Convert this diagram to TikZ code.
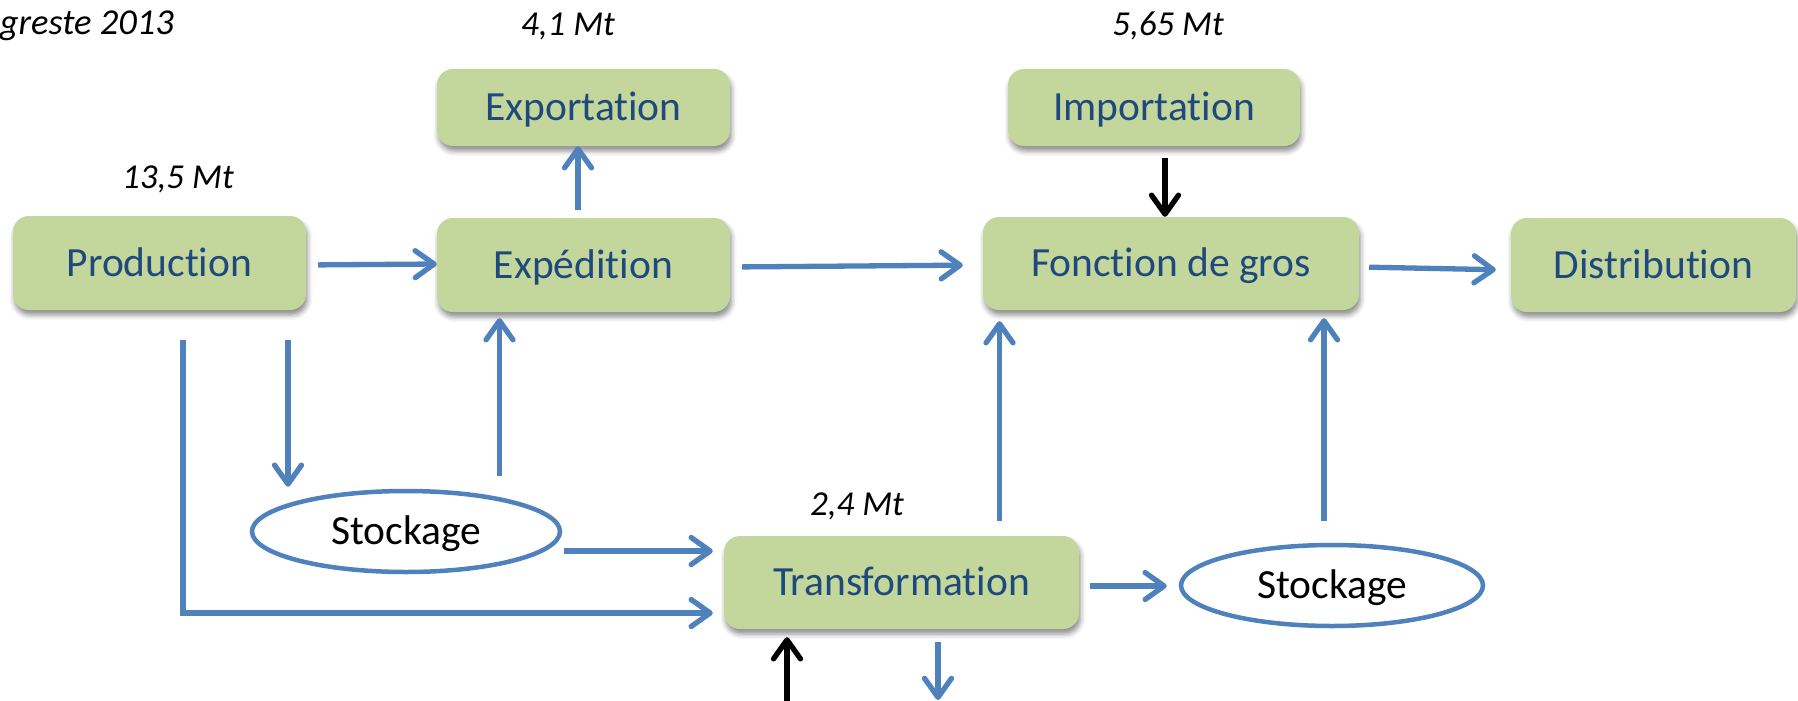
\documentclass[tikz,border=0pt]{standalone}
\usepackage{fontspec}
\setmainfont{Carlito}[Ligatures={NoCommon}]
\usetikzlibrary{arrows.meta,shapes.geometric,shadows.blur,calc}
\definecolor{boxgreen}{HTML}{C3D69B}
\definecolor{boxtext}{HTML}{1F497D}
\definecolor{arrblue}{HTML}{4F81BD}
\tikzset{
  gbox/.style={rectangle, rounded corners=16pt, fill=boxgreen, draw=none, inner sep=0pt,
    text=boxtext, font=\fontsize{41.5}{50}\selectfont, text height=26.5pt, text depth=0pt,
    blur shadow={shadow xshift=1.5pt, shadow yshift=-5pt, shadow blur radius=5pt, shadow opacity=45}},
  stockbox/.style={ellipse, draw=arrblue, line width=4.5pt, fill=white, inner sep=0pt,
    font=\fontsize{41.5}{50}\selectfont, text height=26.5pt, text depth=0pt},
  qty/.style={font=\fontsize{35}{42}\selectfont\itshape, inner sep=0pt, anchor=base},
  arr/.style={draw=arrblue, line width=5.3pt,
    -{Straight Barb[length=19pt, width=27pt, line cap=round, line join=round]}},
  blk/.style={draw=black, line width=5.3pt,
    -{Straight Barb[length=19pt, width=27pt, line cap=round, line join=round]}},
}
\begin{document}
\begin{tikzpicture}[x=1pt, y=-1pt]
\useasboundingbox (0,0) rectangle (1798,701);

% boxes
\node[gbox, minimum width=293pt, minimum height=94pt] (prod) at (159.5,263) {Production};
\node[gbox, minimum width=293pt, minimum height=77pt] (export) at (583.5,107.5) {Exportation};
\node[gbox, minimum width=293pt, minimum height=94pt] (exped) at (583.5,265) {Expédition};
\node[gbox, minimum width=292pt, minimum height=77pt] (import) at (1154,107.5) {Importation};
\node[gbox, minimum width=376pt, minimum height=93pt] (fonction) at (1171,263.5) {Fonction de gros};
\node[gbox, minimum width=285pt, minimum height=94pt] (distrib) at (1653.5,265) {Distribution};
\node[gbox, minimum width=355pt, minimum height=93pt] (transf) at (901.5,582.5) {Transformation};
\node[stockbox, minimum width=308pt, minimum height=81pt] (stock1) at (406,531.5) {Stockage};
\node[stockbox, minimum width=302pt, minimum height=81pt] (stock2) at (1332,585.5) {Stockage};

% labels
\node[qty, anchor=base east, font=\fontsize{36.5}{42}\selectfont\itshape] (src) at (174,35) {greste 2013};
\node[qty] (q41) at (568,36) {4,1 Mt};
\node[qty] (q565) at (1168,36) {5,65 Mt};
\node[qty] (q135) at (178,188) {13,5 Mt};
\node[qty] (q24) at (857,515) {2,4 Mt};

% free ends
\coordinate (inT) at (787,704);
\coordinate (outT) at (938,700);

% connectors
\draw[arr, shorten <=12pt] ([yshift=-2pt]prod.east) -- ([yshift=1pt]exped.west);
\draw[arr, shorten <=8pt] ([xshift=-5.5pt]exped.north) -- ([xshift=-5.5pt]export.south);
\draw[arr, shorten <=12pt, shorten >=20pt] ([yshift=-2pt]exped.east) -- ([yshift=-1.5pt]fonction.west);
\draw[blk, shorten <=12pt] ([xshift=11pt]import.south) -- ([xshift=11pt]import.south |- fonction.north);
\draw[arr, shorten <=10pt, shorten >=15pt] ([yshift=-3.5pt]fonction.east) -- ([yshift=-5pt]distrib.west);
\draw[arr, shorten <=30pt, shorten >=2pt] ([xshift=128.5pt]prod.south) -- ([xshift=128.5pt]prod.south |- stock1.north);
\draw[arr, shorten <=13pt, shorten >=6pt] ([xshift=93.5pt]stock1.north) -- ([xshift=93.5pt]stock1.north |- exped.south);
\draw[arr, shorten <=30pt, shorten >=11pt] ([xshift=23.5pt]prod.south) |- ([yshift=-30.5pt]transf.west);
\draw[arr, shorten <=2pt, shorten >=11pt] ([yshift=-19.5pt]stock1.east) -- ([yshift=31.5pt]transf.west);
\draw[arr, shorten <=15pt, shorten >=11pt] ([xshift=98pt]transf.north) -- ([xshift=98pt]transf.north |- fonction.south);
\draw[arr, shorten <=11pt, shorten >=12pt] ([yshift=-3.5pt]transf.east) -- ([yshift=-0.5pt]stock2.west);
\draw[arr, shorten <=22pt, shorten >=8pt] ([xshift=-8pt]stock2.north) -- ([xshift=-8pt]stock2.north |- fonction.south);
\draw[blk, shorten >=8pt] (inT) -- (inT |- transf.south);
\draw[arr, shorten <=13pt] (outT |- transf.south) -- (outT);
\end{tikzpicture}
\end{document}
